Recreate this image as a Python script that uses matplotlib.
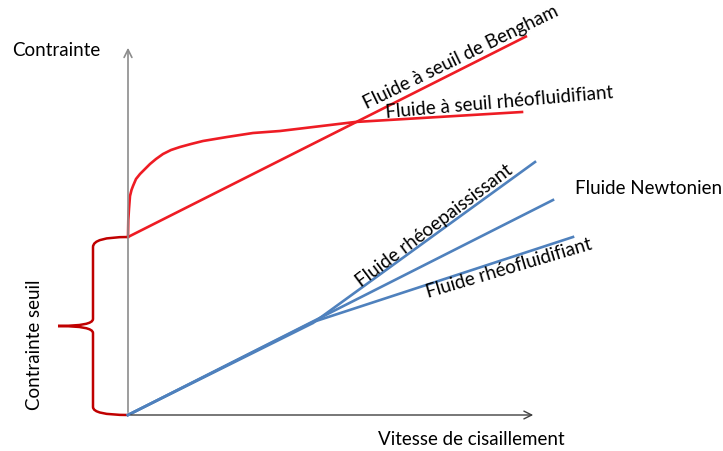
import matplotlib
matplotlib.use("Agg")
import matplotlib.pyplot as plt
from matplotlib.path import Path
from matplotlib.patches import PathPatch

plt.rcParams['font.family'] = ['Lato', 'DejaVu Sans']

# curves (x = shear rate, y = stress, same units)
bingham_x = [0, 399]
bingham_y = [178, 379]

seuil_x = [0, 0.3, 1, 2, 3.5, 5, 8, 12, 17, 22, 28, 35, 43, 52, 63, 75, 99, 125, 152, 227, 394]
seuil_y = [178, 195, 206, 219, 225, 229, 236, 241, 246, 251, 256, 261, 265, 268, 271, 274, 278, 282, 284, 293, 303]

epais_x = [0, 185, 407]
epais_y = [0, 92, 253]

newton_x = [0, 425]
newton_y = [0, 215]

fluid_x = [0, 185, 445]
fluid_y = [0, 93, 178]

tau0 = 178
RED = "#ee1c24"
BLUE = "#4f81bd"

fig = plt.figure(figsize=(7.23, 4.52), dpi=100)
ax = fig.add_axes([0, 0, 1, 1])
ax.set_xlim(-128, 723 - 128)
ax.set_ylim(416 - 452, 416)
ax.axis("off")

# axes with arrows
ax.annotate("", xy=(0, 370), xytext=(0, 0),
            arrowprops=dict(arrowstyle="->", color="#8c8c8c", lw=1.2, mutation_scale=14))
ax.annotate("", xy=(408, 0), xytext=(0, 0),
            arrowprops=dict(arrowstyle="->", color="#404040", lw=1.0, mutation_scale=14))

ax.plot(bingham_x, bingham_y, color=RED, lw=1.9, solid_capstyle="butt")
ax.plot(seuil_x, seuil_y, color=RED, lw=1.9, solid_joinstyle="round")
for xs, ys in [(epais_x, epais_y), (newton_x, newton_y), (fluid_x, fluid_y)]:
    ax.plot(xs, ys, color=BLUE, lw=1.9)

# brace for the yield stress
bx, tip = -35, -70
mid = tau0 / 2
verts = [(0, tau0), (bx, tau0), (bx, tau0 - 10),
         (bx, mid + 7), (bx, mid), (tip, mid),
         (bx, mid), (bx, mid - 7),
         (bx, 8), (bx, 0), (0, 0)]
codes = [Path.MOVETO, Path.CURVE3, Path.CURVE3,
         Path.LINETO, Path.CURVE3, Path.CURVE3,
         Path.CURVE3, Path.CURVE3,
         Path.LINETO, Path.CURVE3, Path.CURVE3]
ax.add_patch(PathPatch(Path(verts, codes), fill=False, edgecolor="#c00000", lw=1.8))

fs = 13.5
ax.text(-116, 366, "Contrainte", fontsize=fs, va="center", ha="left")
ax.text(250, -24, "Vitesse de cisaillement", fontsize=fs, va="center", ha="left")
ax.text(-93, 71, "Contrainte seuil", fontsize=fs, rotation=90, va="center", ha="center")
ax.text(447, 228, "Fluide Newtonien", fontsize=fs, va="center", ha="left")

ax.text(239, 307, "Fluide à seuil de Bengham", fontsize=fs, rotation=26,
        rotation_mode="anchor", ha="left", va="baseline")
ax.text(258, 298, "Fluide à seuil rhéofluidifiant", fontsize=fs, rotation=5,
        rotation_mode="anchor", ha="left", va="baseline")
ax.text(233, 128, "Fluide rhéoepaississant", fontsize=fs, rotation=37,
        rotation_mode="anchor", ha="left", va="baseline")
ax.text(300, 118, "Fluide rhéofluidifiant", fontsize=fs, rotation=16.5,
        rotation_mode="anchor", ha="left", va="baseline")

fig.savefig("out.png", dpi=100)
